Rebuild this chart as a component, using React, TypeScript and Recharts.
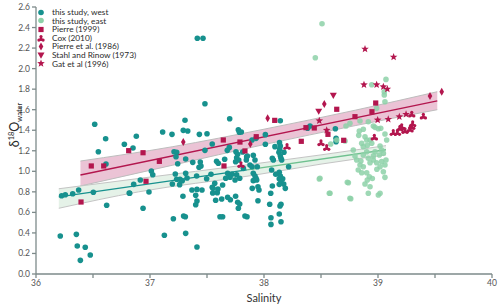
import React from 'react';
import {
  ComposedChart, Scatter, Line, Area, XAxis, YAxis,
} from 'recharts';

// salinity / d18O pairs
const WEST: [number, number][] = [
  [36.515, 1.458], [36.611, 1.317], [36.547, 1.191], [36.775, 1.263], [36.880, 1.341], [36.851, 1.227], [36.614, 1.071],
  [36.225, 0.762], [36.257, 0.772], [36.322, 0.782], [36.374, 0.818], [36.503, 0.796], [36.857, 0.873], [36.818, 0.789],
  [36.620, 0.669], [36.939, 0.640], [36.915, 0.915],
  [36.213, 0.370], [36.354, 0.386], [36.362, 0.273], [36.432, 0.260], [36.476, 0.185], [36.389, 0.133],
  [37.482, 1.658], [37.307, 1.497], [37.292, 1.399], [37.331, 1.392], [37.111, 1.383], [37.193, 1.360], [37.433, 1.360],
  [37.500, 1.366], [37.546, 1.266],
  [37.211, 1.191], [37.234, 1.185], [37.228, 1.142], [37.313, 1.120], [37.482, 1.204], [37.243, 1.074], [37.375, 1.087],
  [37.441, 1.091], [37.447, 1.052], [37.430, 1.039], [37.584, 1.097], [37.599, 1.078],
  [37.012, 1.003], [37.024, 0.967],
  [37.222, 0.974], [37.234, 0.922], [37.263, 0.922], [37.313, 0.980], [37.325, 0.935], [37.409, 0.954], [37.497, 0.928], [37.535, 0.971],
  [37.196, 0.876], [37.260, 0.870], [37.283, 0.908], [36.822, 0.786], [36.991, 0.798],
  [37.412, 0.824], [37.456, 0.818], [37.368, 0.818], [37.546, 0.844], [37.568, 0.883], [37.590, 0.792], [37.550, 0.789],
  [37.289, 0.757], [37.401, 0.766], [37.412, 0.711], [37.401, 0.675], [37.576, 0.718],
  [37.205, 0.538], [37.295, 0.565], [37.310, 0.558], [37.614, 0.558], [37.126, 0.377], [37.313, 0.396], [37.412, 0.263],
  [37.415, 2.295], [37.465, 2.295],
  [37.699, 1.512], [37.775, 1.405], [37.784, 1.380], [37.848, 1.142], [37.845, 1.110], [37.754, 1.191], [37.769, 1.166],
  [37.760, 1.132], [37.778, 1.110], [37.751, 1.093], [37.696, 1.233], [37.678, 1.204], [37.655, 1.117], [37.819, 1.029],
  [37.681, 0.980], [37.719, 0.971], [37.760, 0.967], [37.702, 0.942], [37.664, 0.932], [37.787, 0.932], [37.746, 0.915],
  [37.637, 0.867], [37.596, 0.828], [37.553, 0.834],
  [37.705, 0.723], [37.751, 0.757], [37.769, 0.698], [37.787, 0.682], [37.775, 0.640], [37.681, 0.747], [37.629, 0.730],
  [37.833, 0.565], [37.637, 0.558],
  [38.143, 1.493], [38.012, 1.357], [37.930, 1.321], [37.895, 1.305], [37.801, 1.383], [38.012, 1.263],
  [38.136, 1.279], [38.143, 1.246], [38.138, 1.217], [38.131, 1.185], [38.143, 1.152], [38.149, 1.127], [38.155, 1.110],
  [38.096, 1.240], [38.073, 1.127], [38.082, 1.110], [38.216, 1.045], [38.175, 1.185], [38.383, 1.419], [38.404, 1.441],
  [38.626, 1.415], [38.632, 1.321], [38.632, 1.288],
  [37.906, 1.156], [37.854, 1.149], [37.813, 1.188], [37.921, 1.110], [37.877, 1.061], [37.895, 1.045], [37.941, 1.045],
  [38.067, 1.013], [38.134, 0.990], [38.103, 0.971], [38.143, 0.954], [38.164, 0.928], [38.134, 0.928], [38.149, 0.896],
  [38.173, 0.876], [38.134, 0.873], [38.187, 0.834],
  [37.906, 0.980], [37.921, 0.954], [37.930, 0.932], [37.936, 0.915], [37.906, 0.909], [37.897, 0.834], [37.947, 0.850],
  [37.956, 0.818], [37.947, 0.714], [38.073, 0.857], [38.059, 0.786], [38.050, 0.679],
  [38.140, 0.662], [38.149, 0.679], [38.134, 0.584], [38.149, 0.509], [38.061, 0.548], [38.061, 0.483], [37.851, 0.558],
];

const EAST: [number, number][] = [
  [38.509, 2.437], [38.450, 2.106], [38.945, 1.843],
  [39.070, 1.895], [39.055, 1.775], [39.055, 1.743], [39.061, 1.678], [38.988, 1.613],
  [38.842, 1.490], [38.754, 1.467], [38.719, 1.441],
  [38.915, 1.483], [38.959, 1.441], [38.974, 1.428], [39.003, 1.415], [39.024, 1.419], [39.061, 1.363], [39.076, 1.305],
  [38.871, 1.409], [38.836, 1.392], [38.831, 1.350],
  [38.886, 1.337], [38.901, 1.305], [38.930, 1.305], [38.945, 1.273], [38.906, 1.253], [38.871, 1.240], [38.857, 1.273],
  [39.018, 1.246], [39.032, 1.207], [39.047, 1.175], [39.012, 1.159], [38.974, 1.191], [38.901, 1.191], [38.871, 1.159],
  [38.915, 1.127], [38.959, 1.110], [38.930, 1.084], [38.988, 1.084], [39.032, 1.094], [39.070, 1.110], [39.061, 1.061],
  [39.018, 1.045], [39.047, 0.996],
  [38.783, 1.207], [38.798, 1.149], [38.813, 1.110], [38.842, 1.061], [38.827, 1.013], [38.857, 0.986],
  [38.871, 1.045], [38.901, 0.986], [38.924, 0.947], [38.906, 0.915], [38.886, 0.876], [38.930, 0.850],
  [39.061, 0.941], [38.740, 0.889], [39.018, 0.786], [39.003, 0.769], [38.915, 0.786], [38.761, 0.733], [38.579, 0.786],
  [38.491, 0.932], [38.573, 0.786], [38.754, 0.737], [38.585, 1.266], [38.731, 0.893], [38.485, 0.925],
  [38.638, 1.305], [38.711, 1.295], [38.960, 1.150], [38.990, 1.020], [38.850, 1.100], [38.950, 0.930],
];

const PIERRE_1999: [number, number][] = [
  [36.485, 1.052], [36.594, 1.052], [36.813, 1.201], [36.939, 1.181], [36.395, 0.701], [37.082, 1.097], [36.965, 0.903],
  [37.643, 1.305], [37.789, 1.285], [37.833, 1.198], [37.649, 1.052], [38.094, 1.496], [38.368, 1.425], [38.441, 1.422],
  [38.327, 1.292], [37.932, 1.337], [38.638, 1.604], [38.699, 1.302], [38.561, 1.360], [38.980, 1.665], [38.947, 1.580],
  [38.798, 1.532],
];
const COX_2010: [number, number][] = [
  [37.798, 1.064], [38.202, 1.240], [38.500, 1.276], [38.550, 1.230], [38.968, 1.331], [39.134, 1.376], [39.170, 1.376],
  [39.193, 1.419], [39.208, 1.434], [39.237, 1.395], [39.281, 1.409], [39.296, 1.434], [39.304, 1.461], [39.296, 1.555],
  [39.398, 1.535],
];
const PIERRE_1986: [number, number][] = [
  [37.292, 1.285], [37.880, 1.266], [38.032, 1.516], [38.529, 1.655], [39.456, 1.733], [39.559, 1.775],
];
const STAHL_1973: [number, number][] = [[38.608, 1.736], [38.480, 1.581]];
const GAT_1996: [number, number][] = [
  [38.886, 2.191], [39.137, 2.113], [38.877, 1.843], [38.988, 1.843], [39.047, 1.824], [39.082, 1.801], [38.997, 1.500],
  [39.090, 1.506], [39.187, 1.532], [39.246, 1.555], [38.485, 1.493], [38.550, 1.400],
];

// regression fits and confidence bands
const PINK_BAND_X = [36.39, 37.2, 38.0, 38.8, 39.52];
const PINK_BAND_LO = [0.857, 1.06, 1.26, 1.445, 1.60];
const PINK_BAND_HI = [1.10, 1.24, 1.41, 1.595, 1.775];
const PINK_LINE_X = [36.39, 39.52];
const PINK_LINE_Y = [0.964, 1.685];

const GREEN_BAND_X = [36.2, 36.9, 37.9, 38.5, 39.07];
const GREEN_BAND_LO = [0.64, 0.80, 0.96, 1.07, 1.16];
const GREEN_BAND_HI = [0.83, 0.93, 1.07, 1.16, 1.25];
const WEST_LINE_X = [36.2, 37.85];
const WEST_LINE_Y = [0.75, 1.014];
const EAST_LINE_X = [37.85, 39.07];
const EAST_LINE_Y = [1.014, 1.21];

const X_TICKS = [36, 36.5, 37, 37.5, 38, 38.5, 39, 39.5, 40];
const Y_TICKS = [0, 0.2, 0.4, 0.6, 0.8, 1.0, 1.2, 1.4, 1.6, 1.8, 2.0, 2.2, 2.4, 2.6];

const TEAL = '#17918e';
const MINT = '#8dd1a8';
const RED = '#b3164e';
const AXIS = '#7d8a8a';
const FONT = 'Lato, "Open Sans", sans-serif';

const pts = (a: [number, number][]) => a.map(([x, y]) => ({ x, y }));
const band = (xs: number[], lo: number[], hi: number[]) => xs.map((x, i) => ({ x, band: [lo[i], hi[i]] }));
const line = (xs: number[], ys: number[]) => xs.map((x, i) => ({ x, y: ys[i] }));

const dot = (fill: string, opacity = 1) => (p: any) =>
  <circle cx={p.cx} cy={p.cy} r={2.8} fill={fill} fillOpacity={opacity} />;
const square = (p: any) => <rect x={p.cx - 2.6} y={p.cy - 2.6} width={5.2} height={5.2} fill={RED} />;
const diamond = (p: any) =>
  <path d={`M${p.cx},${p.cy - 4} L${p.cx + 2.3},${p.cy} L${p.cx},${p.cy + 4} L${p.cx - 2.3},${p.cy} Z`} fill={RED} />;
const triDown = (p: any) =>
  <path d={`M${p.cx - 3.5},${p.cy - 3} L${p.cx + 3.5},${p.cy - 3} L${p.cx},${p.cy + 3.2} Z`} fill={RED} />;
const trefoil = (p: any) => (
  <g fill={RED}>
    <circle cx={p.cx} cy={p.cy - 2} r={1.6} />
    <circle cx={p.cx - 2.1} cy={p.cy + 1.6} r={1.6} />
    <circle cx={p.cx + 2.1} cy={p.cy + 1.6} r={1.6} />
    <path d={`M${p.cx},${p.cy - 3} L${p.cx + 2.8},${p.cy + 2.4} L${p.cx - 2.8},${p.cy + 2.4} Z`} />
  </g>
);
const star = (p: any) => {
  const r1 = 4, r2 = 1.7;
  let d = '';
  for (let i = 0; i < 10; i++) {
    const r = i % 2 === 0 ? r1 : r2;
    const a = -Math.PI / 2 + (i * Math.PI) / 5;
    d += `${i === 0 ? 'M' : 'L'}${p.cx + r * Math.cos(a)},${p.cy + r * Math.sin(a)}`;
  }
  return <path d={d + 'Z'} fill={RED} />;
};

const LEGEND: { label: string; shape: (p: any) => React.ReactElement }[] = [
  { label: 'this study, west', shape: dot(TEAL) },
  { label: 'this study, east', shape: dot(MINT) },
  { label: 'Pierre (1999)', shape: square },
  { label: 'Cox (2010)', shape: trefoil },
  { label: 'Pierre et al. (1986)', shape: diamond },
  { label: 'Stahl and Rinow (1973)', shape: triDown },
  { label: 'Gat et al (1996)', shape: star },
];

function LegendBox() {
  return (
    <div style={{ position: 'absolute', left: 36, top: 8, fontFamily: FONT, fontSize: 8.3, color: '#2b2b2b', lineHeight: '8.6px' }}>
      {LEGEND.map(l => (
        <div key={l.label} style={{ display: 'flex', alignItems: 'center', height: 8.6, whiteSpace: 'nowrap' }}>
          <svg width={10} height={9} style={{ marginRight: 6 }}>{l.shape({ cx: 5, cy: 4.5 })}</svg>
          <span>{l.label}</span>
        </div>
      ))}
    </div>
  );
}

// rotated axis title, centred on (12, 125)
function YTitle() {
  return (
    <div style={{
      position: 'absolute', left: -28, top: 117, width: 80, height: 16, textAlign: 'center',
      transform: 'rotate(-90deg)', transformOrigin: '40px 8px',
      fontFamily: FONT, fontSize: 12.5, color: '#2b2b2b', whiteSpace: 'nowrap', lineHeight: '16px',
    }}>
      δ<span style={{ fontSize: 7.5, verticalAlign: 5 }}>18</span>O<span style={{ fontSize: 7.5, verticalAlign: -3 }}>water</span>
    </div>
  );
}

export default function App() {
  const tick = { fill: '#555', fontSize: 8.5, fontFamily: FONT };
  return (
    <div style={{ position: 'absolute', left: 0, top: 0, width: 500, height: 307, background: '#fff' }}>
      <ComposedChart width={500} height={307} margin={{ top: 7, right: 8, bottom: 3, left: 0 }}>
        <XAxis type="number" dataKey="x" domain={[36, 40]} ticks={X_TICKS} allowDataOverflow
          tickFormatter={v => (Number.isInteger(v) ? String(v) : '')} tick={tick}
          stroke={AXIS} strokeWidth={1.3} tickSize={4} height={30}
          label={{ value: 'Salinity', position: 'insideBottom', offset: 2, fill: '#333', fontSize: 11, fontFamily: FONT }} />
        <YAxis type="number" domain={[0, 2.6]} ticks={Y_TICKS} allowDataOverflow width={36}
          tickFormatter={v => v.toFixed(1)} tick={tick} stroke={AXIS} strokeWidth={1.3} tickSize={4} />

        <Area data={band(PINK_BAND_X, PINK_BAND_LO, PINK_BAND_HI)} dataKey="band" type="monotone"
          fill="#e9bcd0" fillOpacity={0.9} stroke="#bdbdbd" strokeWidth={1} isAnimationActive={false} legendType="none" />
        <Area data={band(GREEN_BAND_X, GREEN_BAND_LO, GREEN_BAND_HI)} dataKey="band" type="monotone"
          fill="#e2f1e6" fillOpacity={0.9} stroke="#c4c4c4" strokeWidth={1} isAnimationActive={false} legendType="none" />

        <Scatter data={pts(WEST)} dataKey="y" shape={dot(TEAL)} isAnimationActive={false} />
        <Scatter data={pts(EAST)} dataKey="y" shape={dot(MINT, 0.85)} isAnimationActive={false} />

        <Line data={line(PINK_LINE_X, PINK_LINE_Y)} dataKey="y" stroke={RED} strokeWidth={1.3} dot={false}
          isAnimationActive={false} type="linear" />
        <Line data={line(WEST_LINE_X, WEST_LINE_Y)} dataKey="y" stroke={TEAL} strokeWidth={1.3} dot={false}
          isAnimationActive={false} type="linear" />
        <Line data={line(EAST_LINE_X, EAST_LINE_Y)} dataKey="y" stroke="#6fc08f" strokeWidth={1.3} dot={false}
          isAnimationActive={false} type="linear" />

        <Scatter data={pts(PIERRE_1999)} dataKey="y" shape={square} isAnimationActive={false} />
        <Scatter data={pts(COX_2010)} dataKey="y" shape={trefoil} isAnimationActive={false} />
        <Scatter data={pts(PIERRE_1986)} dataKey="y" shape={diamond} isAnimationActive={false} />
        <Scatter data={pts(STAHL_1973)} dataKey="y" shape={triDown} isAnimationActive={false} />
        <Scatter data={pts(GAT_1996)} dataKey="y" shape={star} isAnimationActive={false} />
      </ComposedChart>
      <YTitle />
      <LegendBox />
    </div>
  );
}
